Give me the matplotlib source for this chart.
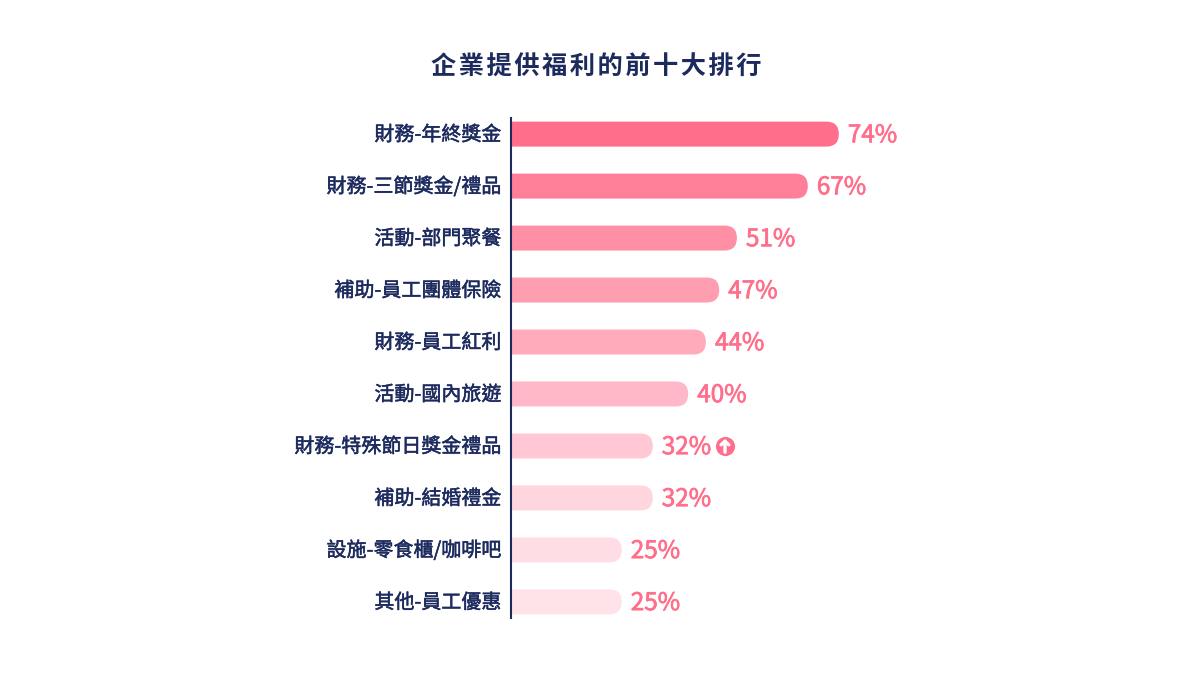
import matplotlib
matplotlib.use('Agg')
import matplotlib.pyplot as plt
import matplotlib.patheffects as pe
from matplotlib.patches import FancyBboxPatch
from matplotlib.transforms import ScaledTranslation

plt.rcParams['font.family'] = ['Noto Sans CJK TC', 'DejaVu Sans']

title = "企業提供福利的前十大排行"
labels = ["財務-年終獎金", "財務-三節獎金/禮品", "活動-部門聚餐", "補助-員工團體保險", "財務-員工紅利",
          "活動-國內旅遊", "財務-特殊節日獎金禮品", "補助-結婚禮金", "設施-零食櫃/咖啡吧", "其他-員工優惠"]
values = [74, 67, 51, 47, 44, 40, 32, 32, 25, 25]
colors = ["#ff6f8b", "#ff7f98", "#ff8fa5", "#ff9db1", "#ffabbc", "#ffb8c8", "#ffc8d4", "#ffd5de", "#ffdde4", "#ffe3e9"]
flagged = 6  # row with the up arrow

navy = "#1c2a5e"
pink = "#ff6f8b"

W, H = 1200, 675
fig = plt.figure(figsize=(W / 100, H / 100), dpi=100)

# axes placed by pixels: 100% = 443px, one row = 52px
ax = fig.add_axes([511 / W, 1 - 618 / H, 443 / W, 500 / H])
ax.set_xlim(0, 100)
ax.set_ylim(9.31, -0.31)

px_x = 100 / 443
px_y = 1 / 52.0
h = 25 * px_y
r = 12.5 * px_x

ys = list(range(len(values)))
for y, v, c in zip(ys, values, colors):
    # starts left of zero so the axes clip away the rounded start
    ax.add_patch(FancyBboxPatch((-2 * r, y - h / 2), v + 2 * r, h, boxstyle="round,pad=0,rounding_size=%f" % r,
                                mutation_aspect=px_y / px_x, fc=c, ec='none', snap=False))
    ax.text(v + 9 * px_x, y - 1.8 * px_y, "%d%%" % v, color=pink, fontsize=17.5, va='center_baseline', ha='left',
            path_effects=[pe.withStroke(linewidth=0.5, foreground=pink)])

ax.scatter([values[flagged] + 16.3], [flagged], s=190, color=pink, linewidth=0, zorder=3)
ax.annotate("", xy=(values[flagged] + 16.3, flagged - 0.135), xytext=(values[flagged] + 16.3, flagged + 0.12),
            arrowprops=dict(arrowstyle="->,head_width=0.28,head_length=0.26", color="white", lw=2.4, shrinkA=0, shrinkB=0), zorder=4)

ax.set_yticks(ys)
ax.set_yticklabels(labels, fontsize=14.4, color=navy)
ax.tick_params(axis='y', length=0, pad=7)
ax.set_xticks([])
for t in ax.get_yticklabels():
    t.set_transform(t.get_transform() + ScaledTranslation(0, 1.5 / 100, fig.dpi_scale_trans))
    t.set_path_effects([pe.withStroke(linewidth=0.35, foreground=navy)])
for s in ['top', 'right', 'bottom']:
    ax.spines[s].set_visible(False)
ax.spines['left'].set_color(navy)
ax.spines['left'].set_linewidth(1.5)

fig.text(596 / W, 1 - 67 / H, "\u200a".join(title), fontsize=18.2, fontweight='bold', color=navy, ha='center', va='center')

plt.savefig('out.png', dpi=100)
